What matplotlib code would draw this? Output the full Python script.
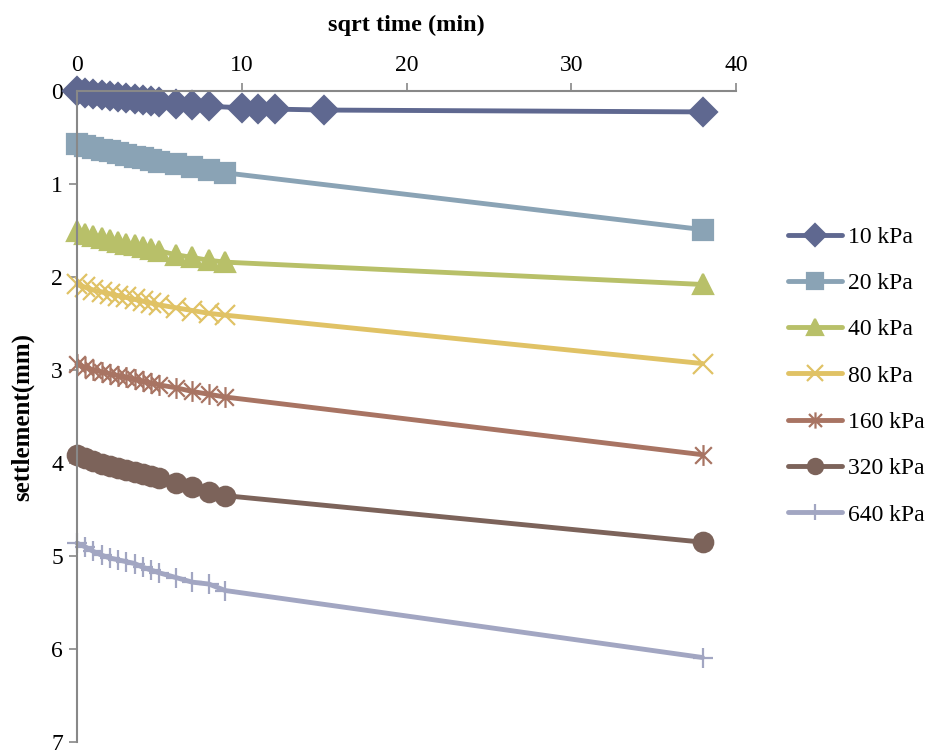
import matplotlib
matplotlib.use("Agg")
import matplotlib.pyplot as plt
from matplotlib.path import Path

plt.rcParams['font.family'] = ['Liberation Serif', 'DejaVu Serif']

# square root of elapsed time (min^0.5)
t_short = [0, 0.5, 1, 1.5, 2, 2.5, 3, 3.5, 4, 4.5, 5, 6, 7, 8, 9, 37.95]
t_10kpa = [0, 0.5, 1, 1.5, 2, 2.5, 3, 3.5, 4, 4.5, 5, 6, 7, 8, 10, 11, 12, 15, 37.95]

labels = ['10 kPa', '20 kPa', '40 kPa', '80 kPa', '160 kPa', '320 kPa', '640 kPa']

s_10 = [0, 0.02, 0.03, 0.04, 0.055, 0.065, 0.075, 0.085, 0.095, 0.105, 0.12,
        0.14, 0.155, 0.165, 0.18, 0.19, 0.195, 0.205, 0.225]
s_20 = [0.57, 0.59, 0.61, 0.63, 0.65, 0.67, 0.69, 0.71, 0.72, 0.74, 0.76,
        0.79, 0.82, 0.85, 0.88, 1.49]
s_40 = [1.51, 1.54, 1.56, 1.58, 1.60, 1.62, 1.64, 1.66, 1.68, 1.70, 1.72,
        1.76, 1.79, 1.82, 1.84, 2.08]
s_80 = [2.08, 2.11, 2.14, 2.16, 2.18, 2.20, 2.22, 2.24, 2.26, 2.28, 2.30,
        2.33, 2.36, 2.39, 2.41, 2.93]
s_160 = [2.94, 2.97, 3.00, 3.02, 3.04, 3.06, 3.08, 3.10, 3.12, 3.14, 3.16,
         3.19, 3.23, 3.26, 3.29, 3.91]
s_320 = [3.91, 3.95, 3.98, 4.01, 4.03, 4.05, 4.07, 4.10, 4.12, 4.14, 4.16,
         4.21, 4.26, 4.31, 4.35, 4.85]
s_640 = [4.86, 4.90, 4.95, 4.99, 5.02, 5.04, 5.06, 5.08, 5.12, 5.15, 5.18,
         5.23, 5.28, 5.30, 5.37, 6.09]

x_ticks = [0, 10, 20, 30, 40]
y_ticks = [0, 1, 2, 3, 4, 5, 6, 7]

# asterisk: an X crossed by a vertical stroke
star = Path([(-1, -1), (1, 1), (-1, 1), (1, -1), (0, -1.25), (0, 1.25)],
            [Path.MOVETO, Path.LINETO, Path.MOVETO, Path.LINETO,
             Path.MOVETO, Path.LINETO])

series = [
    (t_10kpa, s_10, '#5F6890', 'D', 14),
    (t_short, s_20, '#8AA3B5', 's', 14),
    (t_short, s_40, '#B8C069', '^', 14),
    (t_short, s_80, '#E0C265', 'x', 14),
    (t_short, s_160, '#A87463', star, 15),
    (t_short, s_320, '#7C635A', 'o', 14),
    (t_short, s_640, '#A2A6C2', '+', 15),
]

fig = plt.figure(figsize=(9.38, 7.55), dpi=100)
ax = fig.add_axes([0.082, 0.017, 0.703, 0.8625])

for (x, y, col, mk, ms), lab in zip(series, labels):
    ax.plot(x, y, color=col, lw=3.5, marker=mk, markersize=ms,
            markerfacecolor=col, markeredgecolor=col, markeredgewidth=1.6,
            label=lab, clip_on=False, solid_capstyle='round')

ax.set_xlim(0, 40)
ax.set_ylim(7, 0)
ax.xaxis.tick_top()
ax.xaxis.set_label_position('top')
ax.set_xticks(x_ticks)
ax.set_yticks(y_ticks)
ax.tick_params(axis='both', labelsize=17, labelcolor='#000000', color='#888888',
               length=6, width=1.2, direction='out')
ax.tick_params(axis='x', pad=5)
ax.tick_params(axis='y', pad=4)
for side in ('right', 'bottom'):
    ax.spines[side].set_visible(False)
for side in ('left', 'top'):
    ax.spines[side].set_color('#888888')
    ax.spines[side].set_linewidth(1.5)

ax.set_xlabel('sqrt time (min)', fontsize=17.5, fontweight='bold', labelpad=17)
ax.set_ylabel('settlement(mm)', fontsize=18, fontweight='bold', labelpad=12)

leg = fig.legend(loc='center left', bbox_to_anchor=(0.817, 0.502),
                 frameon=False, fontsize=17, handlelength=2.3,
                 handletextpad=0.25, labelspacing=1.05, markerscale=0.78)

fig.savefig('out.png', dpi=100)
